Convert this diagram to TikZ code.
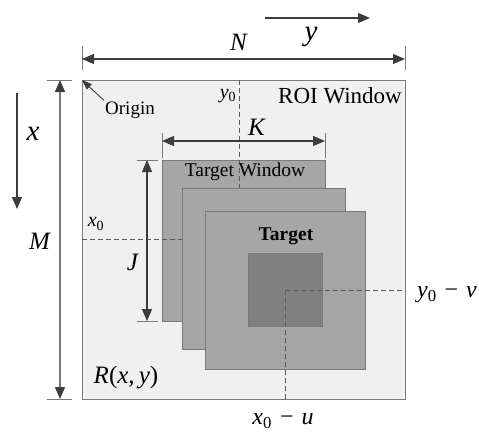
\documentclass[tikz,border=0pt]{standalone}
\usepackage{fontspec}
\setmainfont{Liberation Serif}
\usetikzlibrary{arrows.meta}
\definecolor{roifill}{HTML}{F0F0F0}
\definecolor{edge}{HTML}{7A7A7A}
\definecolor{winfill}{HTML}{A6A6A6}
\definecolor{corefill}{HTML}{808080}
\definecolor{ink}{HTML}{3C3C3C}
\definecolor{guide}{HTML}{5A5A5A}
\newcommand{\fs}[1]{\fontsize{#1}{#1}\selectfont}
\newcommand{\sub}[2]{\textit{#1}\textsubscript{#2}}

\begin{document}
\begin{tikzpicture}[x=1pt,y=-1pt,
  box/.style={draw=edge,line width=0.9pt},
  dimline/.style={draw=ink,line width=1.1pt,{Triangle[length=12pt,width=10pt,color=ink]}-{Triangle[length=12pt,width=10pt,color=ink]}},
  axisarrow/.style={draw=ink,line width=1.1pt,-{Triangle[length=12pt,width=10pt]}},
  tick/.style={draw=edge,line width=0.6pt},
  guideline/.style={draw=guide,line width=0.8pt,dash pattern=on 5pt off 3pt},
  lbl/.style={inner sep=0pt,text=black}]
\useasboundingbox (0,0) rectangle (479,437);

% ROI window
\coordinate (roiNW) at (82,80);
\coordinate (roiSE) at (405,399);
\fill[roifill] (roiNW) rectangle (roiSE);
\draw[box] (roiNW) rectangle (roiSE);

% back target window
\fill[winfill] (162,160) rectangle (325,321);
\draw[box] (162,160) rectangle (325,321);

% centre guides, running over the back window
\coordinate (y0top) at (239,80);
\coordinate (y0bot) at (239,200);
\coordinate (x0left) at (82,239);
\coordinate (x0right) at (190,239);
\draw[guideline] (y0top) -- (y0bot);
\draw[guideline] (x0left) -- (x0right);

% front target windows
\fill[winfill] (182,188) rectangle (345,349);
\draw[box] (182,188) rectangle (345,349);
\fill[winfill] (205,211) rectangle (365,369);
\draw[box] (205,211) rectangle (365,369);
\fill[corefill] (248,253) rectangle (322,326);
\draw[box] (248,253) rectangle (322,326);

% offset guides
\coordinate (uv) at (285,290);
\coordinate (vright) at (405,290);
\coordinate (ubot) at (285,399);
\draw[guideline] (uv) -- (vright);
\draw[guideline] (uv) -- (ubot);

% dimension ticks
\draw[tick] (82,46) -- (82,70);
\draw[tick] (405,46) -- (405,70);
\draw[tick] (47,80) -- (72,80);
\draw[tick] (47,399) -- (72,399);
\draw[tick] (162,133) -- (162,158);
\draw[tick] (325,133) -- (325,158);
\draw[tick] (137,160) -- (158,160);
\draw[tick] (137,321) -- (158,321);

% dimension lines
\coordinate (nL) at (82,59);
\coordinate (nR) at (405,59);
\coordinate (mT) at (60,80);
\coordinate (mB) at (60,399);
\coordinate (kL) at (162,141);
\coordinate (kR) at (325,141);
\coordinate (jT) at (147,160);
\coordinate (jB) at (147,321);
\draw[dimline] (nL) -- (nR);
\draw[dimline,draw=edge] (mT) -- (mB);
\draw[dimline] (kL) -- (kR);
\draw[dimline] (jT) -- (jB);

% axis directions
\coordinate (yS) at (265,18);
\coordinate (yE) at (370,18);
\coordinate (xS) at (17,93);
\coordinate (xE) at (17,209);
\draw[axisarrow] (yS) -- (yE);
\draw[axisarrow] (xS) -- (xE);

% labels
\node[lbl] (N) at (239,42) {\fs{25}\textit{N}};
\node[lbl] (ylab) at (311,37) {\fs{29}\textit{y}};
\node[lbl] (xlab) at (33,134) {\fs{29}\textit{x}};
\node[lbl] (M) at (40,241) {\fs{25}\textit{M}};
\node[lbl] (K) at (257,127) {\fs{25}\textit{K}};
\node[lbl] (J) at (133,262) {\fs{25}\textit{J}};
\node[lbl] (y0) at (228,96) {\fs{20}\sub{y}{0}};
\node[lbl] (x0) at (96,224) {\fs{20}\sub{x}{0}};
\node[lbl] (roiname) at (340,96) {\fs{23}ROI Window};
\node[lbl] (origin) at (130,110) {\fs{19}Origin};
\node[lbl] (twname) at (245,172) {\fs{19.5}Target Window};
\node[lbl] (tname) at (286,236) {\fs{19.5}\textbf{Target}};
\node[lbl] (vlab) at (447,295) {\fs{24}\sub{y}{0}\,\,−\,\,\textit{v}};
\node[lbl] (ulab) at (283,421) {\fs{24}\sub{x}{0}\,\,−\,\,\textit{u}};
\node[lbl] (R) at (126,378) {\fs{25}\textit{R}(\textit{x},\,\textit{y})};

% origin pointer
\draw[ink,line width=0.9pt,-{Triangle[length=10pt,width=7pt]}] (origin.north west) ++(-1,-1) -- (roiNW);
\end{tikzpicture}
\end{document}
